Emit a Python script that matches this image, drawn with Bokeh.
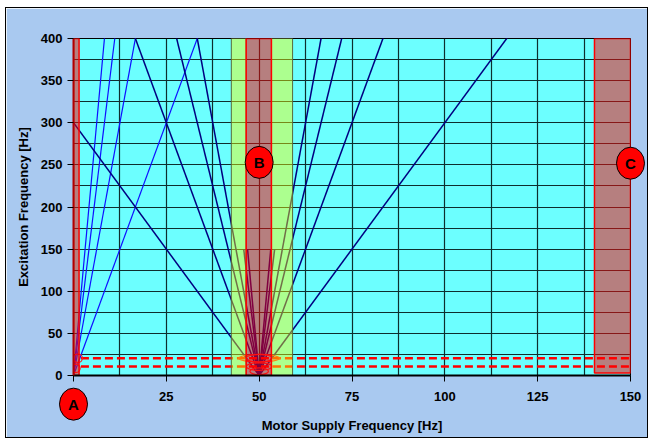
from bokeh.plotting import figure
from bokeh.models import ColumnDataSource, Range1d, FixedTicker
from bokeh.core.properties import value
from bokeh.embed import file_html
from bokeh.resources import INLINE

# ---- data ----
supply_freq = 50
origin_orders = [12, 24, 36, 48]            # lines k*f from the origin
sideband_orders = [6, 12, 18, 24]           # lines k*|f-50| over the full height
steep_orders = [36, 48]                     # short lines k*|f-50| near 50 Hz
steep_top = 150
x_ticks = [0, 25, 50, 75, 100, 125, 150]
y_ticks = [0, 50, 100, 150, 200, 250, 300, 350, 400]
x_grid = [12.5, 25, 37.5, 50, 62.5, 75, 87.5, 100, 112.5, 125, 137.5]
y_grid = [25, 50, 75, 100, 125, 150, 175, 200, 225, 250, 275, 300, 325, 350, 375]
red_left = [0, 46.5, 140.3]
red_right = [1.5, 53.3, 150]
red_bottom = [0, 0, 3]
green_left = [42.5, 53.3]
green_right = [46.5, 59]
dash_levels = [20.5, 10.6]
ell_x = [0.6, 1.2, 50, 50, 50, 50]
ell_y = [8.5, 20.5, 20.5, 20.5, 10.6, 5]
ell_w = [2.4, 2.4, 11, 7, 7, 5]
ell_h = [10, 10, 9, 9, 9, 8]
marker_text = ["A", "B", "C"]
marker_x = [0, 50, 150]
marker_y = [-34, 253, 252]

FONT = "Liberation Sans"
X_MIN, X_MAX, Y_MIN, Y_MAX = 0, 150, 0, 400
W, H = 643, 431
B_LEFT, B_RIGHT, B_TOP, B_BOTTOM = 67, 19, 30, 64

p = figure(width=W, height=H, output_backend="svg", toolbar_location=None,
           x_range=Range1d(X_MIN, X_MAX), y_range=Range1d(Y_MIN, Y_MAX),
           min_border_left=B_LEFT, min_border_right=B_RIGHT,
           min_border_top=B_TOP, min_border_bottom=B_BOTTOM)
p.styles = {"margin-left": "5px", "margin-top": "7px", "border": "1px solid black"}
p.background_fill_color = "#6CFFFF"
p.border_fill_color = "#A9C9F0"
p.outline_line_color = "black"
p.outline_line_width = 1

# grid
p.xgrid.ticker = FixedTicker(ticks=x_grid)
p.ygrid.ticker = FixedTicker(ticks=y_grid)
for g in (p.xgrid, p.ygrid):
    g.grid_line_color = "#0E2E2E"
    g.grid_line_width = 1.2

# excitation lines
o_src = ColumnDataSource(dict(
    x0=[0] * len(origin_orders), y0=[0] * len(origin_orders),
    x1=[150] * len(origin_orders), y1=[150 * k for k in origin_orders]))
p.segment("x0", "y0", "x1", "y1", source=o_src, line_color="#1010FF", line_width=1.2)

l_src = ColumnDataSource(dict(
    x0=[supply_freq] * len(sideband_orders), y0=[0] * len(sideband_orders),
    x1=[0] * len(sideband_orders), y1=[supply_freq * k for k in sideband_orders]))
p.segment("x0", "y0", "x1", "y1", source=l_src, line_color="#000080", line_width=1.5)

r_src = ColumnDataSource(dict(
    x0=[supply_freq] * len(sideband_orders), y0=[0] * len(sideband_orders),
    x1=[150] * len(sideband_orders), y1=[(150 - supply_freq) * k for k in sideband_orders]))
p.segment("x0", "y0", "x1", "y1", source=r_src, line_color="#000080", line_width=1.5)

s_x0, s_y0, s_x1, s_y1 = [], [], [], []
for k in steep_orders:
    for side in (-1, 1):
        s_x0.append(supply_freq)
        s_y0.append(0)
        s_x1.append(supply_freq + side * steep_top / k)
        s_y1.append(steep_top)
p.segment(s_x0, s_y0, s_x1, s_y1, line_color="#000080", line_width=1.5)

# dashed limit lines
for lv in dash_levels:
    p.line([2, 150], [lv, lv], line_color="#FF0000", line_width=2.5, line_dash="8 4")

# small ellipses
p.ellipse(x=ell_x, y=ell_y, width=ell_w, height=ell_h, fill_alpha=0,
          line_color="#FF2020", line_width=1.2)

# bands
p.quad(left=green_left, right=green_right, bottom=[0, 0], top=[400, 400],
       fill_color="#FFFF00", fill_alpha=0.44, line_color="#5A6A3A", line_width=1)
p.quad(left=red_left, right=red_right, bottom=red_bottom, top=[400, 400, 400],
       fill_color="#FF0000", fill_alpha=0.5, line_color="#FF0000", line_width=1.5)

# axes
p.xaxis.ticker = FixedTicker(ticks=x_ticks)
p.xaxis.major_label_overrides = {0: ""}
p.yaxis.ticker = FixedTicker(ticks=y_ticks)
for ax in (p.xaxis, p.yaxis):
    ax.major_label_text_font = FONT
    ax.major_label_text_font_style = "bold"
    ax.major_label_text_font_size = "13px"
    ax.major_label_text_color = "black"
    ax.axis_label_text_font = FONT
    ax.axis_label_text_font_style = "bold"
    ax.axis_label_text_font_size = "13px"
    ax.axis_label_text_color = "black"
    ax.minor_tick_line_color = None
    ax.major_tick_out = 6
    ax.major_tick_in = 0
    ax.major_tick_line_color = "black"
p.xaxis.axis_label = "Motor Supply Frequency [Hz]"
p.yaxis.axis_label = "Excitation Frequency [Hz]"
p.xaxis.axis_line_color = "black"
p.xaxis.axis_line_width = 2
p.yaxis.axis_line_color = "#B00000"
p.yaxis.axis_line_width = 2
p.xaxis.major_label_standoff = 10
p.xaxis.axis_label_standoff = 14
p.yaxis.major_label_standoff = 5
p.yaxis.axis_label_standoff = 7

# ---- transparent overlay covering the whole canvas, with ranges aligned to p ----
frame_w = W - B_LEFT - B_RIGHT
frame_h = H - B_TOP - B_BOTTOM
sx = frame_w / (X_MAX - X_MIN)
sy = frame_h / (Y_MAX - Y_MIN)
ox0 = X_MIN - B_LEFT / sx
oy0 = Y_MIN - B_BOTTOM / sy
q = figure(width=W, height=H, output_backend="svg", toolbar_location=None,
           x_range=Range1d(ox0, ox0 + W / sx), y_range=Range1d(oy0, oy0 + H / sy),
           x_axis_type=None, y_axis_type=None,
           min_border_left=0, min_border_right=0, min_border_top=0, min_border_bottom=0)
q.styles = {"position": "absolute", "left": "6px", "top": "8px"}
q.grid.visible = False
q.outline_line_color = None
q.background_fill_alpha = 0
q.border_fill_alpha = 0
q.ellipse(x=marker_x, y=marker_y, width=28, height=32, width_units="screen",
          height_units="screen", fill_color="#FF0000", line_color="black", line_width=1)
q.text(x=marker_x, y=marker_y, text=marker_text, text_align="center",
       text_baseline="middle", text_font=value(FONT), text_font_style="bold",
       text_font_size="15px", text_color="black")

open("out.html", "w").write(file_html([p, q], INLINE))
